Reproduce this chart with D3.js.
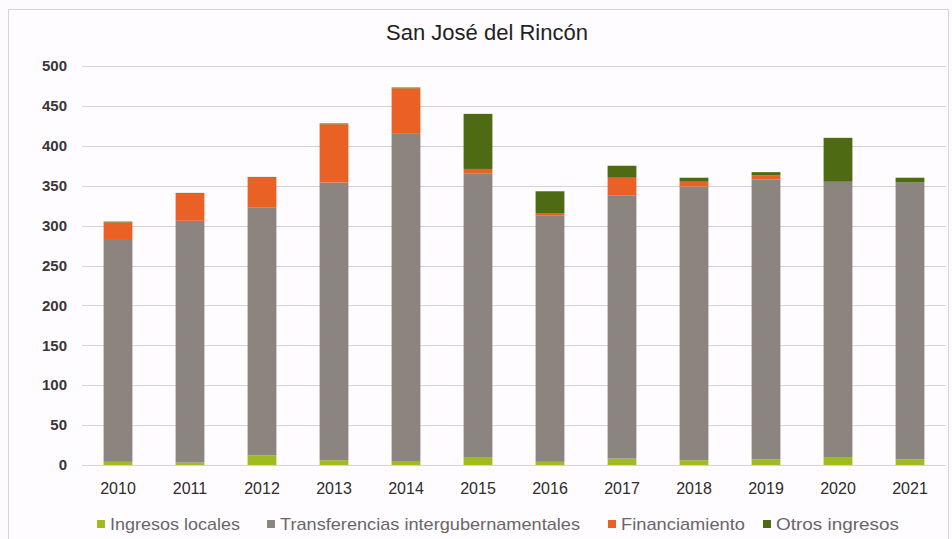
<!DOCTYPE html>
<html>
<head>
<meta charset="utf-8">
<script src="https://cdn.jsdelivr.net/npm/d3@7"></script>
<style>
  html, body { margin: 0; padding: 0; background: #fdfbfd; }
  svg { display: block; }
</style>
</head>
<body>
<svg id="chart" width="952" height="539"></svg>
<script>
const title = "San José del Rincón";
const years = ["2010","2011","2012","2013","2014","2015","2016","2017","2018","2019","2020","2021"];
const seriesNames = ["Ingresos locales","Transferencias intergubernamentales","Financiamiento","Otros ingresos"];
const ingresosLocales = [4, 3, 12, 6, 5, 10, 4, 8, 6, 7, 10, 7];
const transferencias = [278, 303, 311, 348, 410, 355, 309, 330, 343, 351, 345, 347];
const financiamiento = [22, 34, 37, 73, 57, 6, 2, 22, 6, 5, 0, 0];
const otrosIngresos = [1, 1, 1, 1, 1, 69, 28, 15, 5, 4, 55, 6];
const yTicks = [0, 50, 100, 150, 200, 250, 300, 350, 400, 450, 500];
const colors = ["#9fbb1e", "#8b847f", "#ea6125", "#4e6a12"];

const svg = d3.select("#chart");
const W = 952, H = 539;
const margin = {left: 82, right: 6, top: 66, bottom: 74};

// frame
svg.append("rect").attr("x", 8.5).attr("y", 9.5).attr("width", 940).attr("height", 540)
  .attr("fill", "#fefcfe").attr("stroke", "#d8d2d8").attr("stroke-width", 1);

const x = d3.scaleBand().domain(years).range([margin.left, W - margin.right]).paddingInner(0.6).paddingOuter(0.3);
const y = d3.scaleLinear().domain([0, 500]).range([H - margin.bottom, margin.top]);

// gridlines
svg.append("g").selectAll("line").data(yTicks).join("line")
  .attr("x1", margin.left).attr("x2", W - margin.right)
  .attr("y1", d => Math.round(y(d)) + 0.5).attr("y2", d => Math.round(y(d)) + 0.5)
  .attr("stroke", "#d9d1da").attr("stroke-width", 1);

// y labels
svg.append("g").selectAll("text").data(yTicks).join("text")
  .attr("x", 67).attr("y", d => y(d)).attr("dy", "0.35em")
  .attr("text-anchor", "end")
  .attr("font-family", "Liberation Sans, Arial, sans-serif")
  .attr("font-size", 15).attr("font-weight", "bold").attr("fill", "#3a3538")
  .text(d => d);

// stacked data
const rows = years.map((yr, i) => ({
  year: yr,
  [seriesNames[0]]: ingresosLocales[i],
  [seriesNames[1]]: transferencias[i],
  [seriesNames[2]]: financiamiento[i],
  [seriesNames[3]]: otrosIngresos[i]
}));
const stack = d3.stack().keys(seriesNames)(rows);

svg.append("g").selectAll("g").data(stack).join("g")
  .attr("fill", (d, i) => colors[i])
  .selectAll("rect").data(d => d).join("rect")
  .attr("x", d => x(d.data.year))
  .attr("width", x.bandwidth())
  .attr("y", d => y(d[1]))
  .attr("height", d => Math.max(0, y(d[0]) - y(d[1])));

// x labels
svg.append("g").selectAll("text").data(years).join("text")
  .attr("x", d => x(d) + x.bandwidth() / 2).attr("y", 488).attr("dy", "0.35em")
  .attr("text-anchor", "middle")
  .attr("font-family", "Liberation Sans, Arial, sans-serif")
  .attr("font-size", 16).attr("fill", "#2f2b2e")
  .text(d => d);

// title
svg.append("text").attr("x", 487).attr("y", 32).attr("dy", "0.35em")
  .attr("text-anchor", "middle")
  .attr("font-family", "Liberation Sans, Arial, sans-serif")
  .attr("font-size", 22).attr("fill", "#231f22")
  .text(title);

// legend
const legendX = [97, 267, 608, 763];
const legendW = [130, 300, 124, 123];
const lg = svg.append("g").selectAll("g").data(seriesNames).join("g")
  .attr("transform", (d, i) => `translate(${legendX[i]},524)`);
lg.append("rect").attr("x", 0).attr("y", -4).attr("width", 8).attr("height", 8)
  .attr("fill", (d, i) => colors[i]);
lg.append("text").attr("x", 13).attr("y", 0).attr("dy", "0.35em")
  .attr("font-family", "Liberation Sans, Arial, sans-serif")
  .attr("font-size", 17).attr("fill", "#6b6569")
  .attr("textLength", (d, i) => legendW[i]).attr("lengthAdjust", "spacingAndGlyphs")
  .text(d => d);
</script>
</body>
</html>
